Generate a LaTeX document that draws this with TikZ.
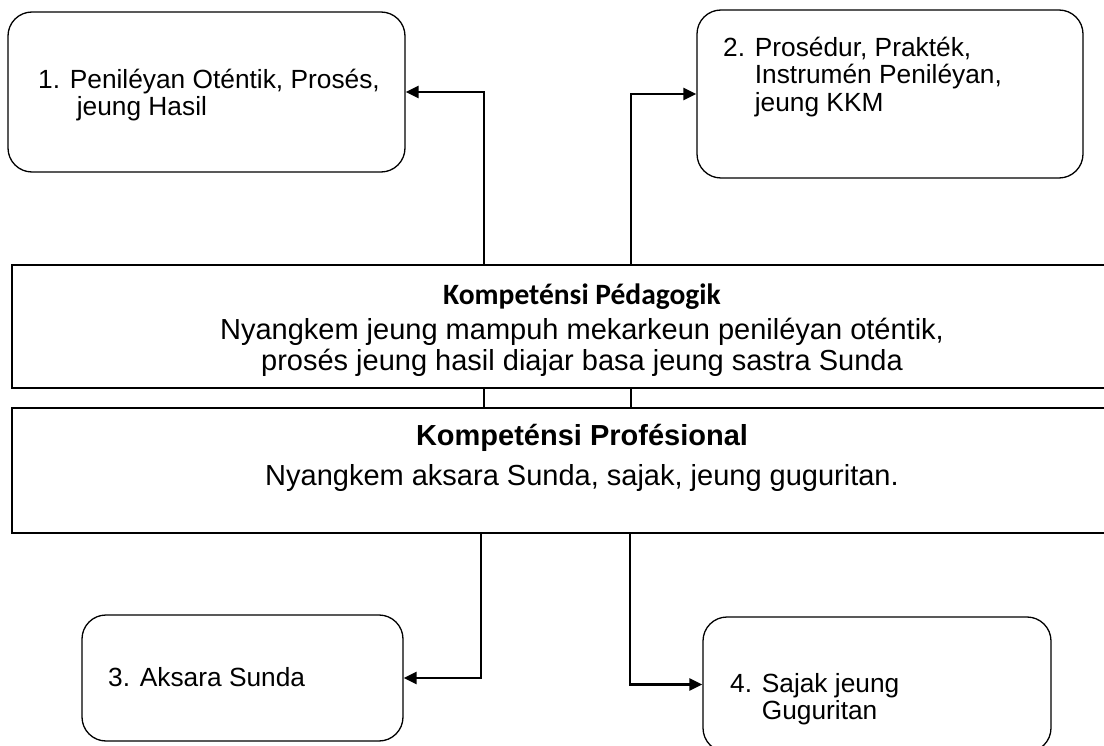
\documentclass[tikz,border=0pt]{standalone}
\usepackage{fontspec}
\setmainfont{Liberation Sans}
\newfontfamily\calibri{Carlito}
\usetikzlibrary{arrows.meta}

\begin{document}
\begin{tikzpicture}[x=1pt,y=-1pt,
							kotak/.style={draw,rounded corners=24pt,line width=1.3pt,inner sep=0pt},
							kompetensi/.style={draw,line width=2pt,inner sep=0pt,minimum width=1104pt},
							panah/.style={line width=2.6pt,-{Triangle[length=13pt,width=12pt]}},
							sambung/.style={line width=2.6pt},
							teks/.style={anchor=west,align=left,inner sep=0pt,font=\fontsize{26.3}{27.5}\selectfont}]
			\useasboundingbox (0,0) rectangle (1104,746);
			% kotak-kotak
			\node[kotak,minimum width=397pt,minimum height=160pt] (aspek1) at (206.5,92) {};
			\node[kotak,minimum width=386pt,minimum height=168pt] (aspek2) at (890,94) {};
			\node[kotak,minimum width=321pt,minimum height=126pt] (aspek3) at (242.5,678) {};
			\node[kotak,minimum width=348pt,minimum height=135pt] (aspek4) at (877,684.5) {};
			\node[kompetensi,minimum height=123pt] (pedagogik) at (564,326.5) {};
			\node[kompetensi,minimum height=125pt] (profesional) at (564,470.5) {};
			% teks
			\node[teks] (t1) at (38,95) {1. Peniléyan Oténtik, Prosés,\\\hphantom{1. }\hspace{7pt}jeung Hasil};
			\node[teks] (t2) at (723,77) {2. Prosédur, Prakték,\\\hphantom{2. }Instrumén Peniléyan,\\\hphantom{2. }jeung KKM};
			\node[teks] (t3) at (108,677) {3. Aksara Sunda};
			\node[teks] (t4) at (730,699) {4. Sajak jeung\\\hphantom{4. }Guguritan};
			\node[inner sep=0pt,font=\calibri\bfseries\fontsize{29.5}{32}\selectfont] (j1) at (582,297) {Kompeténsi Pédagogik};
			\node[inner sep=0pt,align=center,font=\fontsize{29}{31}\selectfont] (d1) at (582,347) {Nyangkem jeung mampuh mekarkeun peniléyan oténtik,\\prosés jeung hasil diajar basa jeung sastra Sunda};
			\node[inner sep=0pt,font=\bfseries\fontsize{29}{32}\selectfont] (j2) at (582,438) {Kompeténsi Profésional};
			\node[inner sep=0pt,font=\fontsize{29}{32}\selectfont] (d2) at (582,478) {Nyangkem aksara Sunda, sajak, jeung guguritan.};
			% garis
			\coordinate (ki) at (484,0);
			\coordinate (ka) at (631,0);
			\coordinate (kib) at (481,0);
			\coordinate (kab) at (630,0);
			\draw[panah] (pedagogik.north -| ki) |- (aspek1.east);
			\draw[panah] (pedagogik.north -| ka) |- (aspek2.west);
			\draw[sambung] (pedagogik.south -| ki) -- (profesional.north -| ki);
			\draw[sambung] (pedagogik.south -| ka) -- (profesional.north -| ka);
			\draw[panah] (profesional.south -| kib) |- (aspek3.east);
			\draw[panah] (profesional.south -| kab) |- (aspek4.west);
		\end{tikzpicture}
\end{document}
